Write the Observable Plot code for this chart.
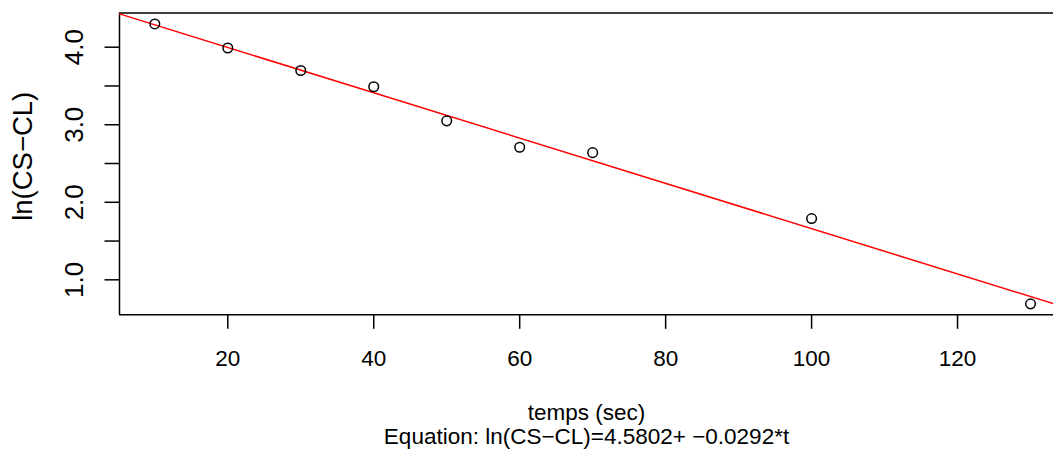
<!DOCTYPE html>
<html>
<head>
<meta charset="utf-8">
<script src="https://cdn.jsdelivr.net/npm/d3@7"></script>
<script src="https://cdn.jsdelivr.net/npm/@observablehq/plot@0.6"></script>
<style>
  html, body { margin: 0; padding: 0; background: #fff; }
  #chart svg { display: block; font-family: "Liberation Sans", Arial, sans-serif; }
</style>
</head>
<body>
<div id="chart"></div>
<script>
// Data
const times = [10, 20, 30, 40, 50, 60, 70, 100, 130];
const lnValues = [4.30, 3.99, 3.70, 3.49, 3.05, 2.71, 2.64, 1.79, 0.69];
const intercept = 4.5802;
const slope = -0.0292;
const xTicks = [20, 40, 60, 80, 100, 120];
const yTicks = [1.0, 1.5, 2.0, 2.5, 3.0, 3.5, 4.0];
const xLabel = "temps (sec)";
const yLabel = "ln(CS\u2212CL)";
const equation = "Equation: ln(CS\u2212CL)=4.5802+ \u22120.0292*t";

const xDomain = [5.16, 133.15];
const yDomain = [0.549, 4.441];

const points = times.map((t, i) => ({t, v: lnValues[i]}));
const fit = xDomain.map(t => ({t, v: intercept + slope * t}));

const fsH = 22.5;   // horizontal text
const fsTick = 26;  // rotated tick labels
const fsYLab = 27.5; // rotated axis label
const chart = Plot.plot({
  width: 1053,
  height: 453,
  marginLeft: 119,
  marginRight: 0,
  marginTop: 12.5,
  marginBottom: 138.7,
  style: {fontSize: fsH + "px", fontFamily: '"Liberation Sans", Arial, sans-serif', color: "#000", background: "#fff"},
  x: {domain: xDomain},
  y: {domain: yDomain},
  marks: [
    Plot.ruleX([xDomain[0]], {stroke: "#000", strokeWidth: 1.5}),
    Plot.ruleY(yDomain, {stroke: "#000", strokeWidth: 1.5}),
    Plot.axisX({ticks: xTicks, tickSize: 14.5, tickPadding: 20.9, tickFormat: d => String(d), stroke: "#000", strokeWidth: 1.5, fontSize: fsH, label: null}),
    Plot.axisY({ticks: yTicks, tickSize: 14.5, tickPadding: 22.5, tickRotate: -90,
      tickFormat: d => Number.isInteger(d) ? d.toFixed(1) : "", stroke: "#000", strokeWidth: 1.5, fontSize: fsTick, label: null}),
    Plot.line(fit, {x: "t", y: "v", stroke: "#ff0000", strokeWidth: 1.5, clip: true}),
    Plot.dot(points, {x: "t", y: "v", r: 4.8, stroke: "#000", strokeWidth: 1.5, fill: "none"}),
    Plot.text([xLabel], {frameAnchor: "bottom", textAnchor: "middle", lineAnchor: "middle", dy: 97.8, fontSize: fsH, fill: "#000"}),
    Plot.text([equation], {frameAnchor: "bottom", textAnchor: "middle", lineAnchor: "middle", dy: 121.8, fontSize: fsH, fill: "#000"}),
    Plot.text([yLabel], {frameAnchor: "left", textAnchor: "middle", lineAnchor: "middle", dx: -96, dy: -7.6, rotate: -90, fontSize: fsYLab, fill: "#000"})
  ]
});
document.getElementById("chart").appendChild(chart);
</script>
</body>
</html>
